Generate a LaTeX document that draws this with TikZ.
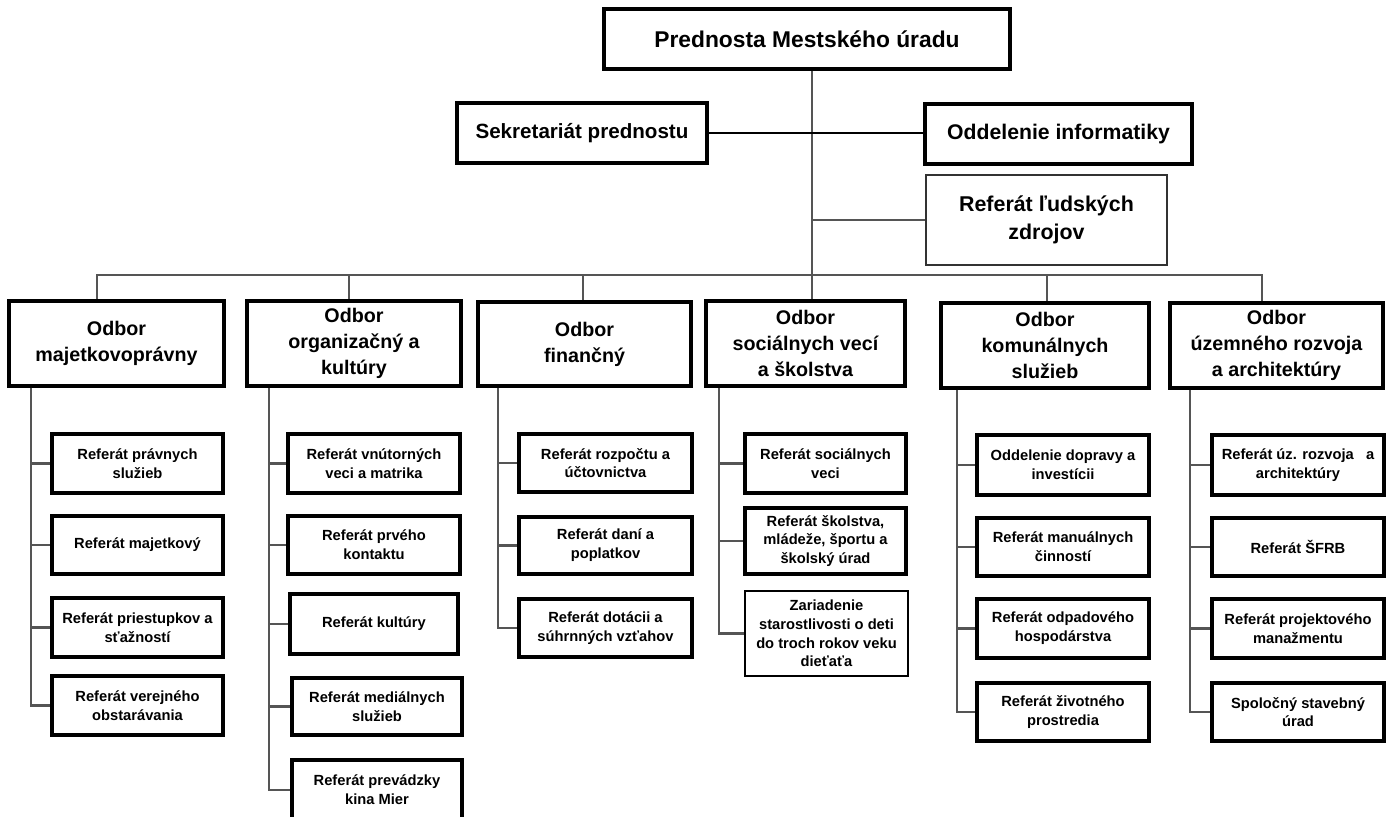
\documentclass[tikz,border=0pt]{standalone}
\usepackage{fontspec}
\setmainfont{Liberation Sans}
\definecolor{conncol}{RGB}{85,85,85}
\definecolor{rlzcol}{RGB}{50,50,50}
\begin{document}
\begin{tikzpicture}[x=0.5pt,y=-0.5pt,
  bx/.style={draw=black,line width=1.6pt,fill=white,inner sep=0pt,align=center,font=\bfseries},
  bxthin/.style={draw=black,line width=1pt,fill=white,inner sep=0pt,align=center,font=\bfseries},
  subf/.style={font=\bfseries\fontsize{7.35}{9.4}\selectfont},
  odf/.style={font=\bfseries\fontsize{9.85}{13}\selectfont},
  conn/.style={draw=conncol,line width=1.1pt},
  connb/.style={draw=black,line width=0.8pt}]
\clip (0,0) rectangle (1388,817);
\fill[white] (0,0) rectangle (1388,817);
\newcommand\ob[7]{\node[#7,minimum width={(#4-#2)*0.5pt},minimum height={(#5-#3)*0.5pt}] (#1) at ({(#2+#4)/2},{(#3+#5)/2}) {#6};}
% coordinates of the bus
\coordinate (tj) at (812,275);
\coordinate (b1) at (97,275);
\coordinate (b2) at (349,275);
\coordinate (b3) at (583,275);
\coordinate (b5) at (1047,275);
\coordinate (b6) at (1262,275);
\coordinate (s1) at (31,0);
\coordinate (s2) at (269,0);
\coordinate (s3) at (498,0);
\coordinate (s4) at (719,0);
\coordinate (s5) at (957,0);
\coordinate (s6) at (1190,0);
% top level
\ob{pred}{604}{9}{1010}{69}{Prednosta Mestského úradu}{bx,line width=2pt,font=\bfseries\fontsize{11.4}{13}\selectfont}
\ob{sek}{457}{103}{707}{163}{Sekretariát prednostu}{bx,font=\bfseries\fontsize{10.3}{13}\selectfont}
\ob{odd}{925}{104}{1192}{164}{Oddelenie informatiky}{bx,font=\bfseries\fontsize{10.6}{13}\selectfont}
\ob{rlz}{926}{175}{1167}{265}{Referát ľudských\\zdrojov}{bxthin,draw=rlzcol,font=\bfseries\fontsize{10.7}{13.8}\selectfont}
% odbory
\ob{o1}{9}{301}{224}{386}{Odbor\\majetkovoprávny}{bx,odf}
\ob{o2}{247}{301}{461}{386}{Odbor\\organizačný a\\kultúry}{bx,odf}
\ob{o3}{478}{302}{691}{386}{Odbor\\finančný}{bx,odf}
\ob{o4}{706}{301}{905}{386}{Odbor\\sociálnych vecí\\a školstva}{bx,odf}
\ob{o5}{941}{303}{1149}{388}{Odbor\\komunálnych\\služieb}{bx,odf}
\ob{o6}{1170}{303}{1383}{388}{Odbor\\územného rozvoja\\a architektúry}{bx,odf}
% column 1
\ob{r11}{52}{434}{223}{493}{Referát právnych\\služieb}{bx,subf}
\ob{r12}{52}{516}{223}{574}{Referát majetkový}{bx,subf}
\ob{r13}{52}{598}{223}{657}{Referát priestupkov a\\sťažností}{bx,subf}
\ob{r14}{52}{676}{223}{735}{Referát verejného\\obstarávania}{bx,subf}
% column 2
\ob{r21}{288}{434}{460}{493}{Referát vnútorných\\veci a matrika}{bx,subf}
\ob{r22}{288}{516}{460}{574}{Referát prvého\\kontaktu}{bx,subf}
\ob{r23}{290}{594}{458}{654}{Referát kultúry}{bx,subf}
\ob{r24}{292}{678}{462}{735}{Referát mediálnych\\služieb}{bx,subf}
\ob{r25}{292}{760}{462}{820}{Referát prevádzky\\kina Mier}{bx,subf}
% column 3
\ob{r31}{519}{434}{692}{492}{Referát rozpočtu a\\účtovnictva}{bx,subf}
\ob{r32}{519}{517}{692}{574}{Referát daní a\\poplatkov}{bx,subf}
\ob{r33}{519}{599}{692}{657}{Referát dotácii a\\súhrnných vzťahov}{bx,subf}
% column 4
\ob{r41}{745}{434}{906}{493}{Referát sociálnych\\veci}{bx,subf}
\ob{r42}{745}{508}{906}{574}{Referát školstva,\\mládeže, športu a\\školský úrad}{bx,subf}
\ob{r43}{745}{591}{908}{676}{Zariadenie\\starostlivosti o deti\\do troch rokov veku\\dieťaťa}{bxthin,subf}
% column 5
\ob{r51}{977}{435}{1149}{495}{Oddelenie dopravy a\\investícii}{bx,subf}
\ob{r52}{977}{518}{1149}{576}{Referát manuálnych\\činností}{bx,subf}
\ob{r53}{977}{599}{1149}{658}{Referát odpadového\\hospodárstva}{bx,subf}
\ob{r54}{977}{683}{1149}{741}{Referát životného\\prostredia}{bx,subf}
% column 6
\ob{r61}{1212}{435}{1384}{495}{Referát úz. rozvoja~~~a\\architektúry}{bx,subf}
\ob{r62}{1212}{518}{1384}{576}{Referát ŠFRB}{bx,subf}
\ob{r63}{1212}{599}{1384}{658}{Referát projektového\\manažmentu}{bx,subf}
\ob{r64}{1212}{683}{1384}{741}{Spoločný stavebný\\úrad}{bx,subf}
% connectors
\draw[conn] (tj |- pred.south) -- (o4.north -| tj);
\draw[connb] (sek.east) -- (sek.east -| odd.west);
\draw[conn] (tj |- rlz.west) -- (rlz.west);
\draw[conn] (b1 |- o1.north) -- (b1) -- (b6) -- (b6 |- o6.north);
\draw[conn] (b2) -- (b2 |- o2.north);
\draw[conn] (b3) -- (b3 |- o3.north);
\draw[conn] (b5) -- (b5 |- o5.north);
% column branches
\draw[conn] (s1 |- o1.south) |- (r14.west);
\foreach \r in {r11,r12,r13} \draw[conn] (s1 |- \r.west) -- (\r.west);
\draw[conn] (s2 |- o2.south) |- (r25.west);
\foreach \r in {r21,r22,r23,r24} \draw[conn] (s2 |- \r.west) -- (\r.west);
\draw[conn] (s3 |- o3.south) |- (r33.west);
\foreach \r in {r31,r32} \draw[conn] (s3 |- \r.west) -- (\r.west);
\draw[conn] (s4 |- o4.south) |- (r43.west);
\foreach \r in {r41,r42} \draw[conn] (s4 |- \r.west) -- (\r.west);
\draw[conn] (s5 |- o5.south) |- (r54.west);
\foreach \r in {r51,r52,r53} \draw[conn] (s5 |- \r.west) -- (\r.west);
\draw[conn] (s6 |- o6.south) |- (r64.west);
\foreach \r in {r61,r62,r63} \draw[conn] (s6 |- \r.west) -- (\r.west);
\end{tikzpicture}
\end{document}
